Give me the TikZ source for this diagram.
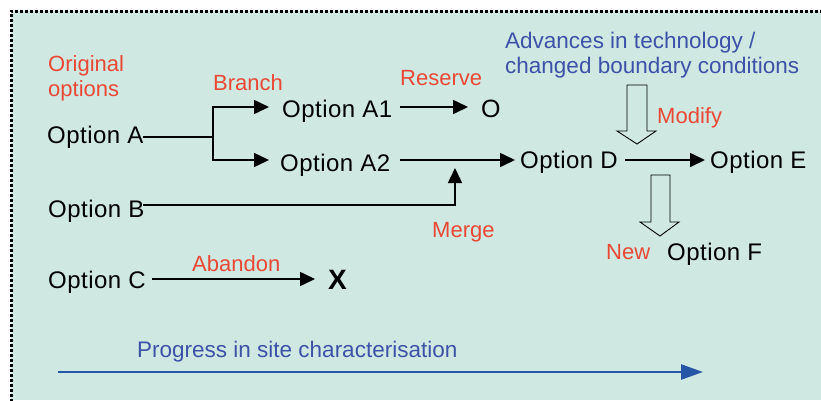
\documentclass[tikz,border=0pt]{standalone}
\usepackage{fontspec}
\setmainfont{Liberation Sans}
\newfontfamily\optfont[LetterSpace=2]{Liberation Sans}
\usetikzlibrary{arrows.meta}
\definecolor{bgc}{RGB}{207,232,226}
\definecolor{redl}{RGB}{234,72,52}
\definecolor{bluel}{RGB}{60,82,168}
\definecolor{bluea}{RGB}{40,86,166}
\begin{document}
\begin{tikzpicture}[x=1pt,y=-1pt,
  opt/.style={anchor=base west,inner sep=0pt,font=\optfont\fontsize{24}{28}\selectfont,text=black},
  lbl/.style={anchor=base west,inner sep=0pt,font=\fontsize{22}{26}\selectfont,text=redl},
  blu/.style={anchor=base west,inner sep=0pt,font=\fontsize{22.5}{27}\selectfont,text=bluel},
  conn/.style={line width=1.6pt,black},
  arr/.style={conn,-{Triangle[length=15pt,width=14pt]}},
  hollow/.style={draw=black,line width=0.9pt,fill=bgc,line join=miter}]
\useasboundingbox (0,0) rectangle (821,400);
\fill[white] (0,0) rectangle (821,400);
\fill[bgc] (11,11) rectangle (821,400);
\draw[line width=3pt,dash pattern=on 3pt off 2pt] (11,402) -- (11,11) -- (823,11);

% texts
\node[lbl] (orig1) at (48,71) {Original};
\node[lbl] (orig2) at (48,96) {options};
\node[opt] (A) at (47,143) {Option A};
\node[opt] (A1) at (282,117) {Option A1};
\node[opt] (A2) at (280,171) {Option A2};
\node[opt] (B) at (48,217) {Option B};
\node[opt] (C) at (48,288) {Option C};
\node[opt] (D) at (520,168) {Option D};
\node[opt] (E) at (710,168) {Option E};
\node[opt] (F) at (667,260) {Option F};
\node[opt,font=\fontsize{25}{28}\selectfont] (O) at (481,117) {O};
\node[opt,font=\fontsize{28}{30}\selectfont\bfseries] (X) at (328,289) {X};
\node[lbl] (branch) at (213,90) {Branch};
\node[lbl] (reserve) at (400,85) {Reserve};
\node[lbl] (modify) at (657,123) {Modify};
\node[lbl] (merge) at (432,237) {Merge};
\node[lbl] (new) at (606,259) {New};
\node[lbl] (abandon) at (192,271) {Abandon};
\node[blu] (adv1) at (505,48) {Advances in technology /};
\node[blu] (adv2) at (505,73) {changed boundary conditions};
\node[blu] (prog) at (137,357) {Progress in site characterisation};

% coordinates
\coordinate (Aend) at (143,137);
\coordinate (split) at (213,137);
\coordinate (A1in) at (269,107);
\coordinate (A2in) at (269,160);
\coordinate (A1out) at (400,107);
\coordinate (Oin) at (468,107);
\coordinate (A2out) at (400,160);
\coordinate (Din) at (515,160);
\coordinate (Dout) at (625,160);
\coordinate (Ein) at (705,160);
\coordinate (Bend) at (143,205);
\coordinate (mergept) at (455,205);
\coordinate (mergetip) at (455,168);
\coordinate (Cout) at (152,279);
\coordinate (Xin) at (315,279);

% connectors
\draw[conn] (Aend) -- (split);
\draw[arr] (split) |- (A1in);
\draw[arr] (split) |- (A2in);
\draw[arr] (A1out) -- (Oin);
\draw[arr] (A2out) -- (Din);
\draw[arr] (Bend) -- (mergept) -- (mergetip);
\draw[arr] (Dout) -- (Ein);
\draw[arr] (Cout) -- (Xin);

% hollow arrows
\draw[hollow] (627,85) -- (647,85) -- (647,131) -- (656,131) -- (637,144) -- (617,131) -- (627,131) -- cycle;
\draw[hollow] (651,175) -- (670,175) -- (670,222) -- (679,222) -- (660,236) -- (640,222) -- (651,222) -- cycle;

% progress arrow
\coordinate (p0) at (58,372);
\coordinate (p1) at (703,372);
\draw[bluea,line width=2.5pt,-{Triangle[length=22pt,width=15pt]}] (p0) -- (p1);
\end{tikzpicture}
\end{document}
